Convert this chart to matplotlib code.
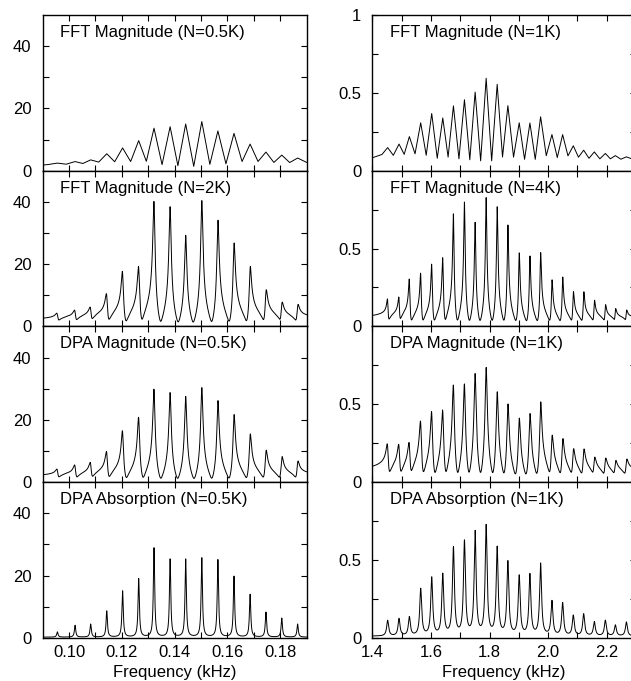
import numpy as np
import matplotlib
matplotlib.use('Agg')
import matplotlib.pyplot as plt
from matplotlib.ticker import FixedLocator

plt.rcParams['font.family'] = ['Liberation Sans', 'DejaVu Sans']

# peak positions (kHz)
left_centers = [0.0956, 0.1023, 0.1082, 0.1143, 0.1203, 0.1264, 0.1322, 0.1383,
                0.1442, 0.1503, 0.1564, 0.1625, 0.1686, 0.1746, 0.1806, 0.1866]
right_centers = [1.4524, 1.4912, 1.5265, 1.5652, 1.6028, 1.6405, 1.6769, 1.7145,
                 1.7510, 1.7886, 1.8262, 1.8627, 1.9014, 1.9379, 1.9744, 2.0131,
                 2.0496, 2.0860, 2.1214, 2.1578, 2.1954, 2.2296, 2.2672]

# peak heights, left column
fft05k_left = [1.4, 1.9, 2.4, 4.6, 6.6, 9.0, 13.2, 13.7, 14.6, 15.4, 12.3, 11.5, 7.9, 5.2, 4.2, 3.1]
fft2k_left = [2.3, 3.2, 3.9, 8.6, 16.4, 17.8, 39.5, 38.0, 28.8, 40.0, 33.5, 25.9, 18.0, 10.0, 5.8, 5.2]
dpamag_left = [2.6, 4.0, 4.7, 8.4, 15.5, 20.0, 29.4, 28.4, 27.2, 30.0, 25.7, 21.0, 14.5, 9.0, 6.9, 5.3]
dpaabs_left = [1.7, 3.8, 4.2, 8.4, 14.8, 18.7, 28.6, 25.0, 25.0, 25.4, 24.8, 19.5, 13.7, 8.0, 6.1, 4.2]

# peak heights, right column
fft1k_right = [0.11, 0.135, 0.19, 0.285, 0.35, 0.32, 0.40, 0.44, 0.49, 0.58, 0.54, 0.40,
               0.29, 0.29, 0.33, 0.21, 0.21, 0.13, 0.10, 0.09, 0.08, 0.06, 0.05]
fft4k_right = [0.14, 0.15, 0.28, 0.32, 0.38, 0.42, 0.71, 0.79, 0.66, 0.82, 0.76, 0.64,
               0.46, 0.44, 0.46, 0.28, 0.30, 0.20, 0.20, 0.14, 0.11, 0.08, 0.07]
dpamag_right = [0.19, 0.19, 0.20, 0.35, 0.42, 0.43, 0.60, 0.61, 0.68, 0.72, 0.56, 0.48,
                0.39, 0.42, 0.49, 0.26, 0.24, 0.17, 0.17, 0.11, 0.11, 0.09, 0.10]
dpaabs_right = [0.10, 0.11, 0.12, 0.30, 0.37, 0.39, 0.56, 0.60, 0.66, 0.70, 0.56, 0.47,
                0.38, 0.39, 0.46, 0.22, 0.21, 0.13, 0.14, 0.09, 0.10, 0.07, 0.09]

left_titles = ['FFT Magnitude (N=0.5K)', 'FFT Magnitude (N=2K)',
               'DPA Magnitude (N=0.5K)', 'DPA Absorption (N=0.5K)']
right_titles = ['FFT Magnitude (N=1K)', 'FFT Magnitude (N=4K)',
                'DPA Magnitude (N=1K)', 'DPA Absorption (N=1K)']

left_xticks = [0.10, 0.12, 0.14, 0.16, 0.18]
left_xlabels = ['0.10', '0.12', '0.14', '0.16', '0.18']
right_xticks = [1.4, 1.6, 1.8, 2.0, 2.2]
right_xlabels = ['1.4', '1.6', '1.8', '2.0', '2.2']


def spectrum(f, centers, heights, gamma, kind, floor):
    c = np.asarray(centers)[:, None]
    h = np.asarray(heights)[:, None]
    d = f[None, :] - c
    if kind == 'abs':
        return (h * gamma**2 / (gamma**2 + d**2)).sum(0) + floor
    z = (h * gamma / (gamma + 1j * d)).sum(0)
    return np.sqrt(np.abs(z)**2 + floor**2)


def freq_grid(centers, lo, hi, coarse):
    if coarse:
        # short transform: roughly one bin on each line and one between lines
        c = np.asarray(centers)
        mids = 0.5 * (c[1:] + c[:-1])
        gap = c[1] - c[0]
        pts = np.concatenate([[lo, c[0] - gap / 2], c, mids,
                              [c[-1] + gap / 2, hi]])
        return np.sort(pts[(pts >= lo) & (pts <= hi)])
    return np.linspace(lo, hi, 6000)


# (heights, gamma, kind, floor, coarse)
left_specs = [(fft05k_left, 0.0006, 'mag', 0.5, True),
              (fft2k_left, 0.0004, 'mag', 0.3, False),
              (dpamag_left, 0.0004, 'mag', 0.3, False),
              (dpaabs_left, 0.0003, 'abs', 0.2, False)]
right_specs = [(fft1k_right, 0.0035, 'mag', 0.04, True),
               (fft4k_right, 0.0022, 'mag', 0.03, False),
               (dpamag_right, 0.0035, 'mag', 0.03, False),
               (dpaabs_right, 0.004, 'abs', 0.01, False)]

fig = plt.figure(figsize=(6.31, 6.81), dpi=100)
W, H = 631.0, 681.0
top0, ph = 15.0, 155.7

for row in range(4):
    bottom = (H - (top0 + (row + 1) * ph)) / H
    for col in range(2):
        if col == 0:
            ax = fig.add_axes([42.6 / W, bottom, 264 / W, ph / H])
            xlo, xhi = 0.09, 0.19
            centers = left_centers
            heights, gamma, kind, floor, coarse = left_specs[row]
            title = left_titles[row]
            ax.set_ylim(0, 50)
            ax.yaxis.set_major_locator(FixedLocator([0, 20, 40]))
            ax.yaxis.set_minor_locator(FixedLocator([10, 30]))
            ax.set_yticklabels(['0', '20', '40'])
            ax.xaxis.set_major_locator(FixedLocator(left_xticks))
            ax.xaxis.set_minor_locator(FixedLocator([0.11, 0.13, 0.15, 0.17]))
            xlabels = left_xlabels
        else:
            ax = fig.add_axes([372.3 / W, bottom, 263.7 / W, ph / H])
            xlo, xhi = 1.4, 2.3
            centers = right_centers
            heights, gamma, kind, floor, coarse = right_specs[row]
            title = right_titles[row]
            ax.set_ylim(0, 1)
            if row == 0:
                ax.yaxis.set_major_locator(FixedLocator([0, 0.5, 1]))
                ax.set_yticklabels(['0', '0.5', '1'])
            else:
                ax.yaxis.set_major_locator(FixedLocator([0, 0.5]))
                ax.set_yticklabels(['0', '0.5'])
            ax.yaxis.set_minor_locator(FixedLocator([0.25, 0.75]))
            ax.xaxis.set_major_locator(FixedLocator(right_xticks))
            ax.xaxis.set_minor_locator(FixedLocator([1.5, 1.7, 1.9, 2.1]))
            xlabels = right_xlabels

        f = freq_grid(centers, xlo, xhi, coarse)
        y = spectrum(f, centers, heights, gamma, kind, floor)
        ax.plot(f, y, color='black', lw=0.7)
        ax.set_xlim(xlo, xhi)

        ax.tick_params(which='both', direction='in', top=True, right=True,
                       length=4, width=0.8, labelsize=12)
        ax.tick_params(axis='y', pad=8)
        ax.tick_params(axis='x', pad=5)
        for sp in ax.spines.values():
            sp.set_linewidth(1.0)

        if row < 3:
            ax.set_xticklabels([])
        else:
            ax.set_xticklabels(xlabels)
            ax.set_xlabel('Frequency (kHz)', fontsize=12, labelpad=4)

        ax.text(0.066, 0.888, title, transform=ax.transAxes, fontsize=12,
                ha='left', va='center')

fig.savefig('out.png', dpi=100)
